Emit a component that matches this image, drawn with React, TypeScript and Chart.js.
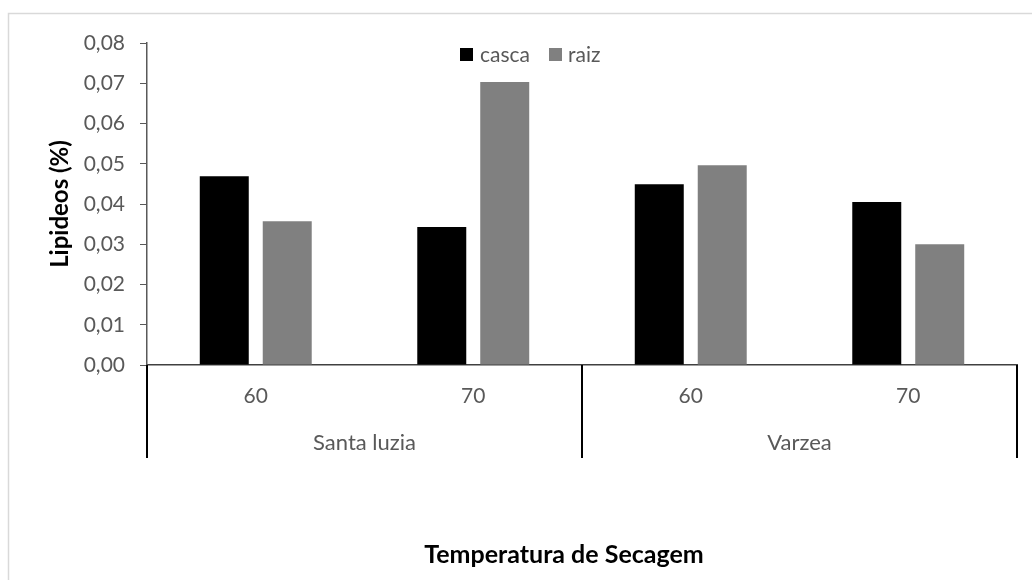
import React, { useEffect, useRef } from "react";
import { Chart, registerables } from "chart.js";

Chart.register(...registerables);

const categories = ["60", "70", "60", "70"];
const groups = ["Santa luzia", "Varzea"];
const cascaValues = [0.0469, 0.0343, 0.0449, 0.0405];
const raizValues = [0.0357, 0.0703, 0.0496, 0.03];
const seriesNames = ["casca", "raiz"];
const seriesColors = ["#000000", "#808080"];
const yTitle = "Lipideos (%)";
const xTitle = "Temperatura de Secagem";

const FONT = "Lato, 'Open Sans', sans-serif";

const decorPlugin = {
  id: "decor",
  beforeDraw(chart: any) {
    const ctx = chart.ctx;
    ctx.save();
    ctx.strokeStyle = "#d9d9d9";
    ctx.lineWidth = 1.5;
    ctx.beginPath();
    ctx.moveTo(8.5, 580);
    ctx.lineTo(8.5, 13.5);
    ctx.lineTo(1032, 13.5);
    ctx.stroke();
    ctx.restore();
  },
  afterDraw(chart: any) {
    const ctx = chart.ctx;
    const area = chart.chartArea;
    const x = chart.scales.x;
    ctx.save();
    // group separators
    const mid = (x.getPixelForValue(1) + x.getPixelForValue(2)) / 2;
    ctx.strokeStyle = "#000000";
    ctx.lineWidth = 2;
    [area.left, mid, area.right].forEach((px: number) => {
      ctx.beginPath();
      ctx.moveTo(px, area.bottom);
      ctx.lineTo(px, 458);
      ctx.stroke();
    });
    // group labels
    ctx.fillStyle = "#595959";
    ctx.font = `22px ${FONT}`;
    ctx.textAlign = "center";
    ctx.textBaseline = "middle";
    groups.forEach((g, i) => {
      const cx = (x.getPixelForValue(i * 2) + x.getPixelForValue(i * 2 + 1)) / 2;
      ctx.fillText(g, cx, 443);
    });
    // x title
    ctx.fillStyle = "#000000";
    ctx.font = `bold 25px ${FONT}`;
    ctx.fillText(xTitle, 564, 555);
    // legend
    ctx.font = `21px ${FONT}`;
    ctx.textAlign = "left";
    ctx.fillStyle = seriesColors[0];
    ctx.fillRect(460, 48, 13, 13);
    ctx.fillStyle = "#595959";
    ctx.fillText(seriesNames[0], 480, 55);
    ctx.fillStyle = seriesColors[1];
    ctx.fillRect(549, 48, 13, 13);
    ctx.fillStyle = "#595959";
    ctx.fillText(seriesNames[1], 568, 55);
    ctx.restore();
  },
};

export default function App() {
  const ref = useRef<HTMLCanvasElement>(null);
  useEffect(() => {
    if (!ref.current) return;
    const chart = new Chart(ref.current, {
      type: "bar",
      data: {
        labels: categories,
        datasets: [
          { label: seriesNames[0], data: cascaValues, backgroundColor: seriesColors[0] },
          { label: seriesNames[1], data: raizValues, backgroundColor: seriesColors[1] },
        ],
      },
      options: {
        responsive: false,
        animation: false,
        layout: { padding: { top: 43, right: 15, left: 0, bottom: 0 } },
        datasets: { bar: { categoryPercentage: 0.579, barPercentage: 0.778 } },
        plugins: { legend: { display: false }, tooltip: { enabled: false } },
        scales: {
          x: {
            grid: { display: false, drawTicks: false },
            border: { display: true, color: "#404040", width: 1.5 },
            ticks: { color: "#595959", font: { family: FONT, size: 21 }, padding: 19, maxRotation: 0 },
            afterFit: (s: any) => { s.height = 215; },
          },
          y: {
            min: 0,
            max: 0.08,
            grid: { drawOnChartArea: false, drawTicks: true, tickLength: 7, color: "#595959" },
            border: { display: true, color: "#595959", width: 1.5 },
            ticks: {
              stepSize: 0.01,
              color: "#595959",
              font: { family: FONT, size: 21 },
              padding: 15,
              callback: (v: any) => Number(v).toFixed(2).replace(".", ","),
            },
            title: {
              display: true,
              text: yTitle,
              color: "#000000",
              font: { family: FONT, size: 24, weight: "bold" },
              padding: { top: 46, bottom: 0 },
            },
            afterFit: (s: any) => { s.width = 147; },
          },
        },
      },
      plugins: [decorPlugin],
    } as any);
    return () => chart.destroy();
  }, []);
  return (
    <div style={{ position: "absolute", left: 0, top: 0, width: 1032, height: 580, background: "#fff" }}>
      <canvas ref={ref} width={1032} height={580} style={{ display: "block" }} />
    </div>
  );
}
